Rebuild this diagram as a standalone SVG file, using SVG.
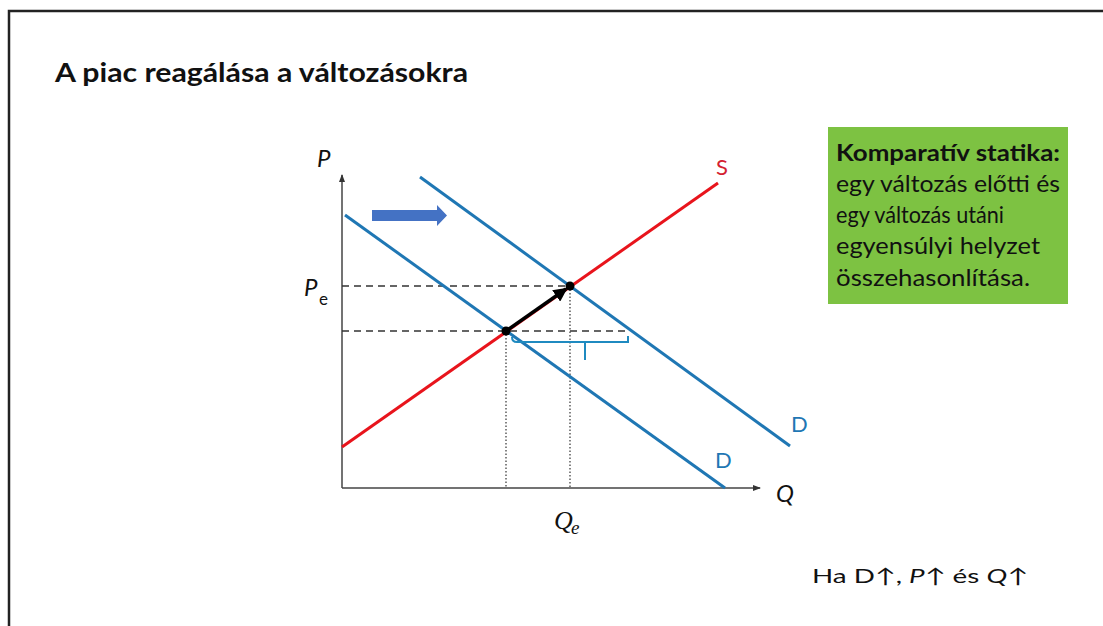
<svg xmlns="http://www.w3.org/2000/svg" width="1103" height="626" viewBox="0 0 1103 626">
<style>
.t{font-family:Lato,"Open Sans","Liberation Sans",sans-serif;fill:#111}
.ax{stroke:#444;stroke-width:1.5;fill:none}
.dash{stroke:#333;stroke-width:1.5;stroke-dasharray:7,5;fill:none}
.dot{stroke:#333;stroke-width:1.2;stroke-dasharray:1.5,2;fill:none}
.dem{stroke:#1f77b4;stroke-width:3;fill:none}
.lbl{font-family:Lato,"Open Sans","Liberation Sans",sans-serif;font-size:24px}
</style>
<defs>
<marker id="ah" markerWidth="8" markerHeight="8" refX="7" refY="4" orient="auto" markerUnits="userSpaceOnUse"><path d="M0,1 L8,4 L0,7 Z" fill="#333"/></marker>
<marker id="bh" markerWidth="14" markerHeight="14" refX="12" refY="7" orient="auto" markerUnits="userSpaceOnUse"><path d="M0,0 L14,7 L0,14 Z" fill="#000"/></marker>
</defs>
<rect x="0" y="0" width="1103" height="626" fill="#fff"/>
<path d="M9,626 V11 H1103" fill="none" stroke="#222" stroke-width="2.5"/>
<text id="title" class="t" x="55" y="82" font-size="27" font-weight="bold" textLength="413" lengthAdjust="spacingAndGlyphs">A piac reagálása a változásokra</text>

<g id="axes">
<line class="ax" x1="342" y1="488" x2="342" y2="175" marker-end="url(#ah)"/>
<line class="ax" x1="342" y1="488" x2="760" y2="488" marker-end="url(#ah)"/>
<text class="lbl" x="317" y="167" font-style="italic" fill="#111">P</text>
<text class="lbl" x="776" y="502" font-style="italic" fill="#111">Q</text>
<text class="lbl" x="304" y="296" font-style="italic" fill="#111">P</text>
<text x="319" y="305" font-family="Lato,'Open Sans',sans-serif" font-size="17" fill="#111">e</text>
<text x="554" y="529" font-family="'Liberation Serif',serif" font-size="26" font-style="italic" fill="#111">Q</text>
<text x="571" y="534" font-family="'Liberation Serif',serif" font-size="19" font-style="italic" fill="#111">e</text>
</g>

<g id="guides">
<line class="dash" x1="342" y1="286" x2="570" y2="286"/>
<line class="dash" x1="342" y1="331" x2="628" y2="331"/>
<line class="dot" x1="506" y1="331" x2="506" y2="488"/>
<line class="dot" x1="570" y1="286" x2="570" y2="488"/>
</g>

<g id="supply">
<line x1="342" y1="447" x2="718" y2="183" stroke="#e8141c" stroke-width="3"/>
<text x="716" y="175" font-family="Lato,'Open Sans',sans-serif" font-size="22" fill="#d42030">S</text>
</g>

<g id="demand1">
<line class="dem" x1="345" y1="215" x2="725" y2="488"/>
<text x="715" y="468" font-family="Lato,'Open Sans',sans-serif" font-size="22" fill="#1f77b4">D</text>
</g>
<g id="demand2">
<line class="dem" x1="420" y1="177" x2="790" y2="446"/>
<text x="791" y="432" font-family="Lato,'Open Sans',sans-serif" font-size="22" fill="#1f77b4">D</text>
</g>

<g id="shift-arrow">
<path d="M372,210 H437 V205 L447,215.5 L437,226 V221 H372 Z" fill="#4472c4"/>
</g>

<g id="bracket">
<path d="M512,337 Q512,342 517,342 H628 V336 M585,342 V360" fill="none" stroke="#1f8ac0" stroke-width="2"/>
</g>

<g id="connectors">
<line x1="506" y1="331" x2="566" y2="289" stroke="#000" stroke-width="3.5" marker-end="url(#bh)"/>
</g>
<g id="points">
<circle cx="506" cy="331" r="4.5" fill="#000"/>
<circle cx="570" cy="286" r="4.5" fill="#000"/>
</g>

<g id="note">
<rect x="828" y="127" width="240" height="177" fill="#7dc242"/>
<text class="t" x="836" y="161" font-size="23" font-weight="bold" fill="#0f2a0a" textLength="224" lengthAdjust="spacingAndGlyphs">Komparatív statika:</text>
<text class="t" x="836" y="192" font-size="23" fill="#0f2a0a" textLength="224" lengthAdjust="spacingAndGlyphs">egy változás előtti és</text>
<text class="t" x="836" y="223" font-size="23" fill="#0f2a0a" textLength="168" lengthAdjust="spacingAndGlyphs">egy változás utáni</text>
<text class="t" x="836" y="254" font-size="23" fill="#0f2a0a" textLength="204" lengthAdjust="spacingAndGlyphs">egyensúlyi helyzet</text>
<text class="t" x="836" y="286" font-size="23" fill="#0f2a0a" textLength="194" lengthAdjust="spacingAndGlyphs">összehasonlítása.</text>
</g>

<g id="caption">
<text class="t" x="812" y="583" font-size="20" fill="#222" textLength="216" lengthAdjust="spacingAndGlyphs">Ha D↑, <tspan font-style="italic">P</tspan>↑ és <tspan font-style="italic">Q</tspan>↑</text>
</g>
</svg>
